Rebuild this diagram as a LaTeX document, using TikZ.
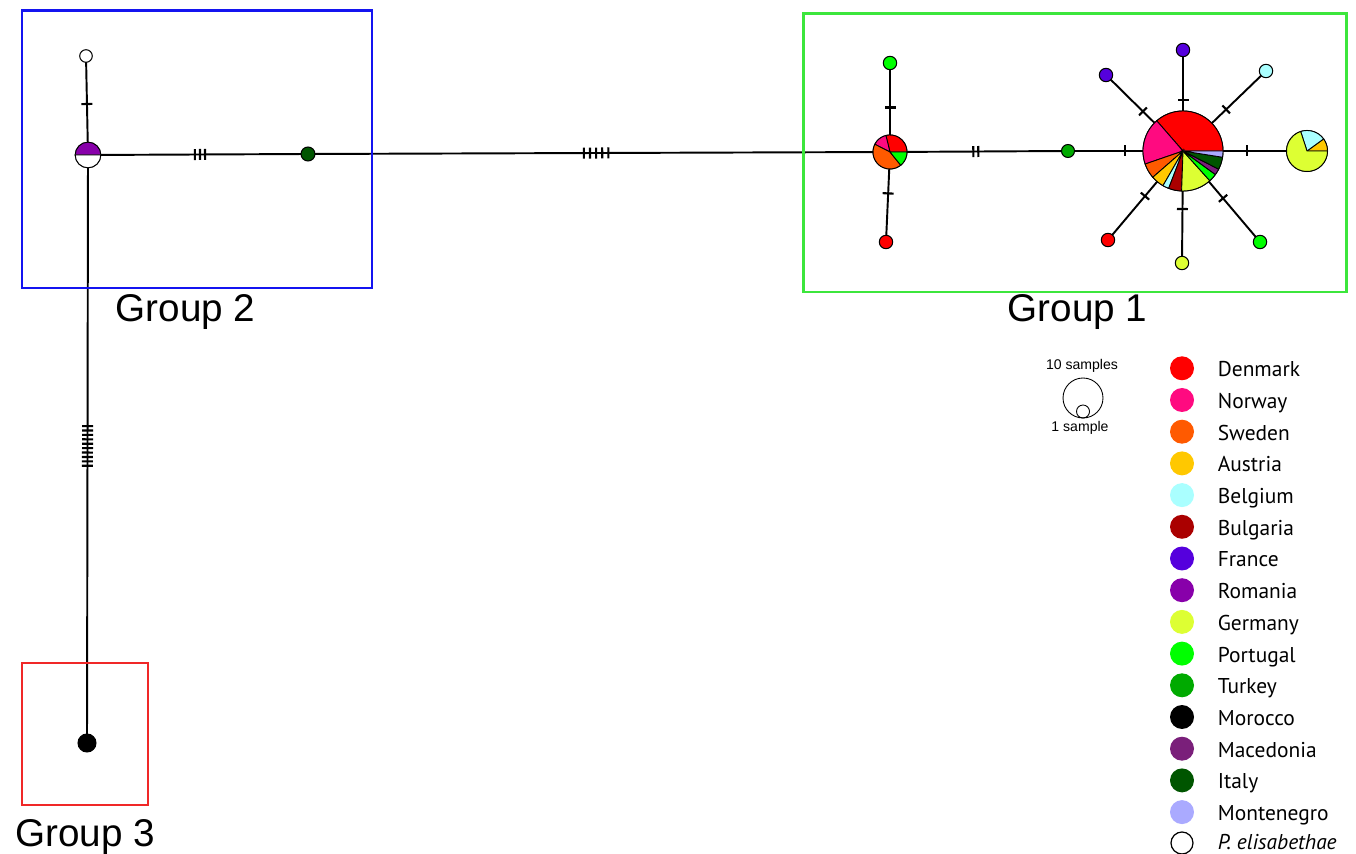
\documentclass[tikz,border=0pt]{standalone}
\usepackage{fontspec}
\setmainfont{Liberation Sans}
\newfontfamily\legfont{PT Sans}
\usetikzlibrary{backgrounds}
\definecolor{denmark}{RGB}{255,0,0}
\definecolor{norway}{RGB}{255,10,128}
\definecolor{sweden}{RGB}{255,90,0}
\definecolor{austria}{RGB}{255,200,0}
\definecolor{belgium}{RGB}{170,255,255}
\definecolor{bulgaria}{RGB}{170,0,0}
\definecolor{france}{RGB}{85,0,221}
\definecolor{romania}{RGB}{136,0,170}
\definecolor{germany}{RGB}{221,255,51}
\definecolor{portugal}{RGB}{0,255,0}
\definecolor{turkey}{RGB}{0,170,0}
\definecolor{morocco}{RGB}{0,0,0}
\definecolor{macedonia}{RGB}{122,31,122}
\definecolor{italy}{RGB}{0,85,0}
\definecolor{montenegro}{RGB}{170,170,255}
\definecolor{boxblue}{RGB}{20,20,240}
\definecolor{boxgreen}{RGB}{60,230,60}
\definecolor{boxred}{RGB}{240,40,40}
\newcommand\myslice[5]{\filldraw[fill=#5,draw=black,line width=0.5pt] (#1.center) -- ++(#3:#2) arc[start angle=#3,end angle=#4,radius=#2] -- cycle;}
\begin{document}
\begin{tikzpicture}[x=0.02cm,y=0.02cm,
  nd/.style={circle,draw=black,line width=0.6pt,inner sep=0pt,minimum size=#1*0.4mm},
  edge/.style={line width=1.1pt},
  tk/.style={sloped,rectangle,fill=black,inner sep=0pt,minimum width=1.2pt,minimum height=0.22cm},
  box/.style={line width=1.7pt},
  grp/.style={anchor=base,font=\fontsize{22}{26}\selectfont},
  leg/.style={circle,inner sep=0pt,minimum size=0.48cm},
  legtxt/.style={anchor=base west,inner sep=0pt,font=\legfont\fontsize{12.2}{14}\selectfont},
  sc/.style={anchor=base,font=\fontsize{8}{10}\selectfont}]
\begin{pgfonlayer}{background}
\fill[white] (0,0) rectangle (1356,-854);
\end{pgfonlayer}
\useasboundingbox (0,0) rectangle (1356,-854);

% boxes and labels
\draw[box,boxblue] (22,-11) rectangle (372,-288);
\draw[box,boxgreen] (803,-14) rectangle (1346,-292);
\draw[box,boxred] (22,-663) rectangle (148,-805);
\node[grp] (g2) at (185.5,-322) {Group 2};
\node[grp] (g1) at (1077.5,-322) {Group 1};
\node[grp] (g3) at (85,-846) {Group 3};

% group 2 nodes
\node[nd=6.3,fill=white] (elis) at (86,-56) {};
\node[nd=12.8,fill=white] (p2) at (88,-155) {};
\node[nd=7,fill=italy] (it2) at (308,-154) {};
\node[nd=9,fill=black] (mor) at (87,-743) {};

% group 1 nodes
\node[nd=17,fill=white] (p1) at (890,-152) {};
\node[nd=6.7,fill=portugal] (a1) at (890,-63) {};
\node[nd=6.7,fill=denmark] (a2) at (886,-242) {};
\node[nd=6.5,fill=turkey] (tu) at (1068,-151) {};
\node[nd=40,fill=white] (big) at (1183,-151) {};
\node[nd=6.7,fill=france] (f1) at (1183,-50) {};
\node[nd=6.7,fill=france] (f2) at (1106,-75) {};
\node[nd=6.7,fill=belgium] (be) at (1266,-71) {};
\node[nd=20.5,fill=white] (gp) at (1307,-151) {};
\node[nd=6.7,fill=denmark] (dk) at (1108,-240) {};
\node[nd=6.7,fill=germany] (ge) at (1182,-263) {};
\node[nd=6.7,fill=portugal] (pt) at (1260,-242) {};

% edges
\begin{pgfonlayer}{background}
\draw[edge] (elis.center) -- (p2.center) node[tk,pos=0.485]{};
\draw[edge] (p2.center) -- (mor.center)
  \foreach \k in {0,...,9} { node[tk,pos={0.461+\k*0.0075}]{} };
\draw[edge] (p2.center) -- (it2.center)
  node[tk,pos=0.486]{} node[tk,pos=0.509]{} node[tk,pos=0.532]{};
\draw[edge] (it2.center) -- (p1.center)
  node[tk,pos=0.474]{} node[tk,pos=0.4845]{} node[tk,pos=0.495]{} node[tk,pos=0.5055]{} node[tk,pos=0.516]{};
\draw[edge] (a1.center) -- (p1.center) node[tk,pos=0.5]{};
\draw[edge] (p1.center) -- (a2.center) node[tk,pos=0.46]{};
\draw[edge] (p1.center) -- (tu.center) node[tk,pos=0.468]{} node[tk,pos=0.496]{};
\draw[edge] (tu.center) -- (big.center) node[tk,pos=0.496]{};
\draw[edge] (big.center) -- (f1.center) node[tk,pos=0.505]{};
\draw[edge] (big.center) -- (f2.center) node[tk,pos=0.52]{};
\draw[edge] (big.center) -- (be.center) node[tk,pos=0.52]{};
\draw[edge] (big.center) -- (gp.center) node[tk,pos=0.516]{};
\draw[edge] (big.center) -- (dk.center) node[tk,pos=0.507]{};
\draw[edge] (big.center) -- (ge.center) node[tk,pos=0.518]{};
\draw[edge] (big.center) -- (pt.center) node[tk,pos=0.52]{};
\end{pgfonlayer}

% pies
\myslice{p2}{12.8}{0}{180}{romania}
\myslice{p2}{12.8}{180}{360}{white}

\myslice{p1}{17}{0}{104}{denmark}
\myslice{p1}{17}{104}{153}{norway}
\myslice{p1}{17}{153}{309}{sweden}
\myslice{p1}{17}{309}{360}{portugal}

\myslice{big}{40}{0}{131}{denmark}
\myslice{big}{40}{131}{199}{norway}
\myslice{big}{40}{199}{221}{sweden}
\myslice{big}{40}{221}{240}{austria}
\myslice{big}{40}{240}{249}{belgium}
\myslice{big}{40}{249}{268}{bulgaria}
\myslice{big}{40}{268}{312}{germany}
\myslice{big}{40}{312}{324}{portugal}
\myslice{big}{40}{324}{333}{macedonia}
\myslice{big}{40}{333}{351}{italy}
\myslice{big}{40}{351}{360}{montenegro}

\myslice{gp}{20.5}{0}{36}{austria}
\myslice{gp}{20.5}{36}{108}{belgium}
\myslice{gp}{20.5}{108}{360}{germany}

% scale
\node[sc] (s10) at (1082,-369.5) {10 samples};
\node[nd=20,fill=none,line width=0.5pt] (sbig) at (1083,-398) {};
\node[nd=6.5,fill=none,line width=0.5pt] (ssmall) at (1083,-411.5) {};
\node[sc] (s1) at (1080,-432) {1 sample};

% legend
\foreach \n/\c [count=\i from 0] in {Denmark/denmark,Norway/norway,Sweden/sweden,Austria/austria,Belgium/belgium,Bulgaria/bulgaria,France/france,Romania/romania,Germany/germany,Portugal/portugal,Turkey/turkey,Morocco/morocco,Macedonia/macedonia,Italy/italy,Montenegro/montenegro} {
  \node[leg,fill=\c] (lg\i) at (1182,{-368.3-31.7*\i}) {};
  \node[legtxt] (lt\i) at (1217.5,{-376.8-31.7*\i}) {\n};
}
\node[leg,draw=black,line width=0.7pt,fill=white,minimum size=0.44cm] (lg15) at (1182,-843) {};
\node[legtxt] (lt15) at (1217.5,-849) {\itshape P. elisabethae};
\end{tikzpicture}
\end{document}
